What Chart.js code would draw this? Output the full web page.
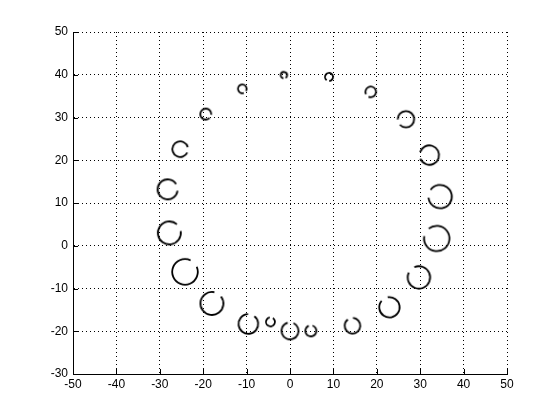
<!DOCTYPE html>
<html>
<head>
<meta charset="utf-8">
<script src="https://cdn.jsdelivr.net/npm/chart.js@4/dist/chart.umd.min.js"></script>
<style>
  html, body { margin: 0; padding: 0; background: #fff; }
  #wrap { width: 560px; height: 420px; }
</style>
</head>
<body>
<div id="wrap"><canvas id="chart" width="560" height="420"></canvas></div>
<script>
// данные
const xValues = [-1.4, 9.0, -11.0, 18.6, -19.4, 26.7, -25.3, 32.1, -28.2, 34.6, -27.8, 33.8, -24.2, 29.7, -18.0, 22.9, -9.6, -4.5, 0.0, 4.8, 14.4];
const yValues = [39.9, 39.5, 36.7, 36.0, 30.8, 29.6, 22.6, 21.2, 13.2, 11.5, 3.0, 1.7, -6.1, -7.4, -13.5, -14.4, -18.3, -17.8, -19.9, -19.9, -18.7];
const sizes   = [3.2, 4.0, 4.3, 5.3, 5.5, 8.2, 7.8, 9.7, 10.0, 11.7, 11.5, 12.7, 12.8, 11.2, 11.5, 10.2, 9.8, 4.5, 8.5, 5.5, 7.8];
const xTicks = [-50, -40, -30, -20, -10, 0, 10, 20, 30, 40, 50];
const yTicks = [-30, -20, -10, 0, 10, 20, 30, 40, 50];

const points = xValues.map((x, i) => ({ x: x, y: yValues[i] }));

// маркер: окружность с разрывом, разрыв смотрит примерно к центру кольца
function makeMarker(r, gapAngle) {
  const size = Math.ceil(2 * (r + 2));
  const c = document.createElement('canvas');
  c.width = size;
  c.height = size;
  const g = c.getContext('2d');
  const phi = -gapAngle;
  const gap = 0.7;
  g.strokeStyle = '#000';
  g.lineWidth = 1.8;
  g.beginPath();
  g.arc(size / 2, size / 2, r, phi + gap / 2, phi - gap / 2 + Math.PI * 2);
  g.stroke();
  return c;
}

const markers = points.map((p, i) => {
  const ang = Math.atan2(20 - p.y, 3 - p.x);
  return makeMarker(sizes[i], ang);
});

// внутренние засечки осей
const innerTicks = {
  id: 'innerTicks',
  afterDraw(chart) {
    const { ctx, chartArea, scales } = chart;
    ctx.save();
    ctx.strokeStyle = '#000';
    ctx.lineWidth = 1;
    ctx.beginPath();
    xTicks.forEach(v => {
      const px = Math.round(scales.x.getPixelForValue(v)) + 0.5;
      ctx.moveTo(px, chartArea.bottom);
      ctx.lineTo(px, chartArea.bottom - 5);
    });
    yTicks.forEach(v => {
      const py = Math.round(scales.y.getPixelForValue(v)) + 0.5;
      ctx.moveTo(chartArea.left, py);
      ctx.lineTo(chartArea.left + 5, py);
    });
    ctx.stroke();
    ctx.restore();
  }
};

const tickFont = { family: '"Liberation Sans", Arial, sans-serif', size: 12 };

new Chart(document.getElementById('chart'), {
  type: 'scatter',
  data: {
    datasets: [{
      data: points,
      pointStyle: ctx => markers[ctx.dataIndex],
      pointRadius: ctx => sizes[ctx.dataIndex],
      pointBackgroundColor: 'transparent',
      pointBorderColor: '#000'
    }]
  },
  options: {
    responsive: false,
    animation: false,
    events: [],
    layout: { padding: { left: 0, right: 53, top: 32, bottom: 0 } },
    plugins: { legend: { display: false }, tooltip: { enabled: false } },
    scales: {
      x: {
        type: 'linear',
        min: -50,
        max: 50,
        afterBuildTicks: s => { s.ticks = xTicks.map(v => ({ value: v })); },
        afterFit: s => { s.height = 46; },
        ticks: { color: '#000', font: tickFont, padding: 3, maxRotation: 0 },
        grid: { color: '#000', lineWidth: 1, drawTicks: false },
        border: { display: true, color: '#000', width: 1, dash: [1, 3] }
      },
      y: {
        type: 'linear',
        min: -30,
        max: 50,
        afterBuildTicks: s => { s.ticks = yTicks.map(v => ({ value: v })); },
        afterFit: s => { s.width = 73; },
        ticks: { color: '#000', font: tickFont, padding: 5 },
        grid: { color: '#000', lineWidth: 1, drawTicks: false },
        border: { display: true, color: '#000', width: 1, dash: [1, 3] }
      }
    }
  },
  plugins: [innerTicks]
});
</script>
</body>
</html>
